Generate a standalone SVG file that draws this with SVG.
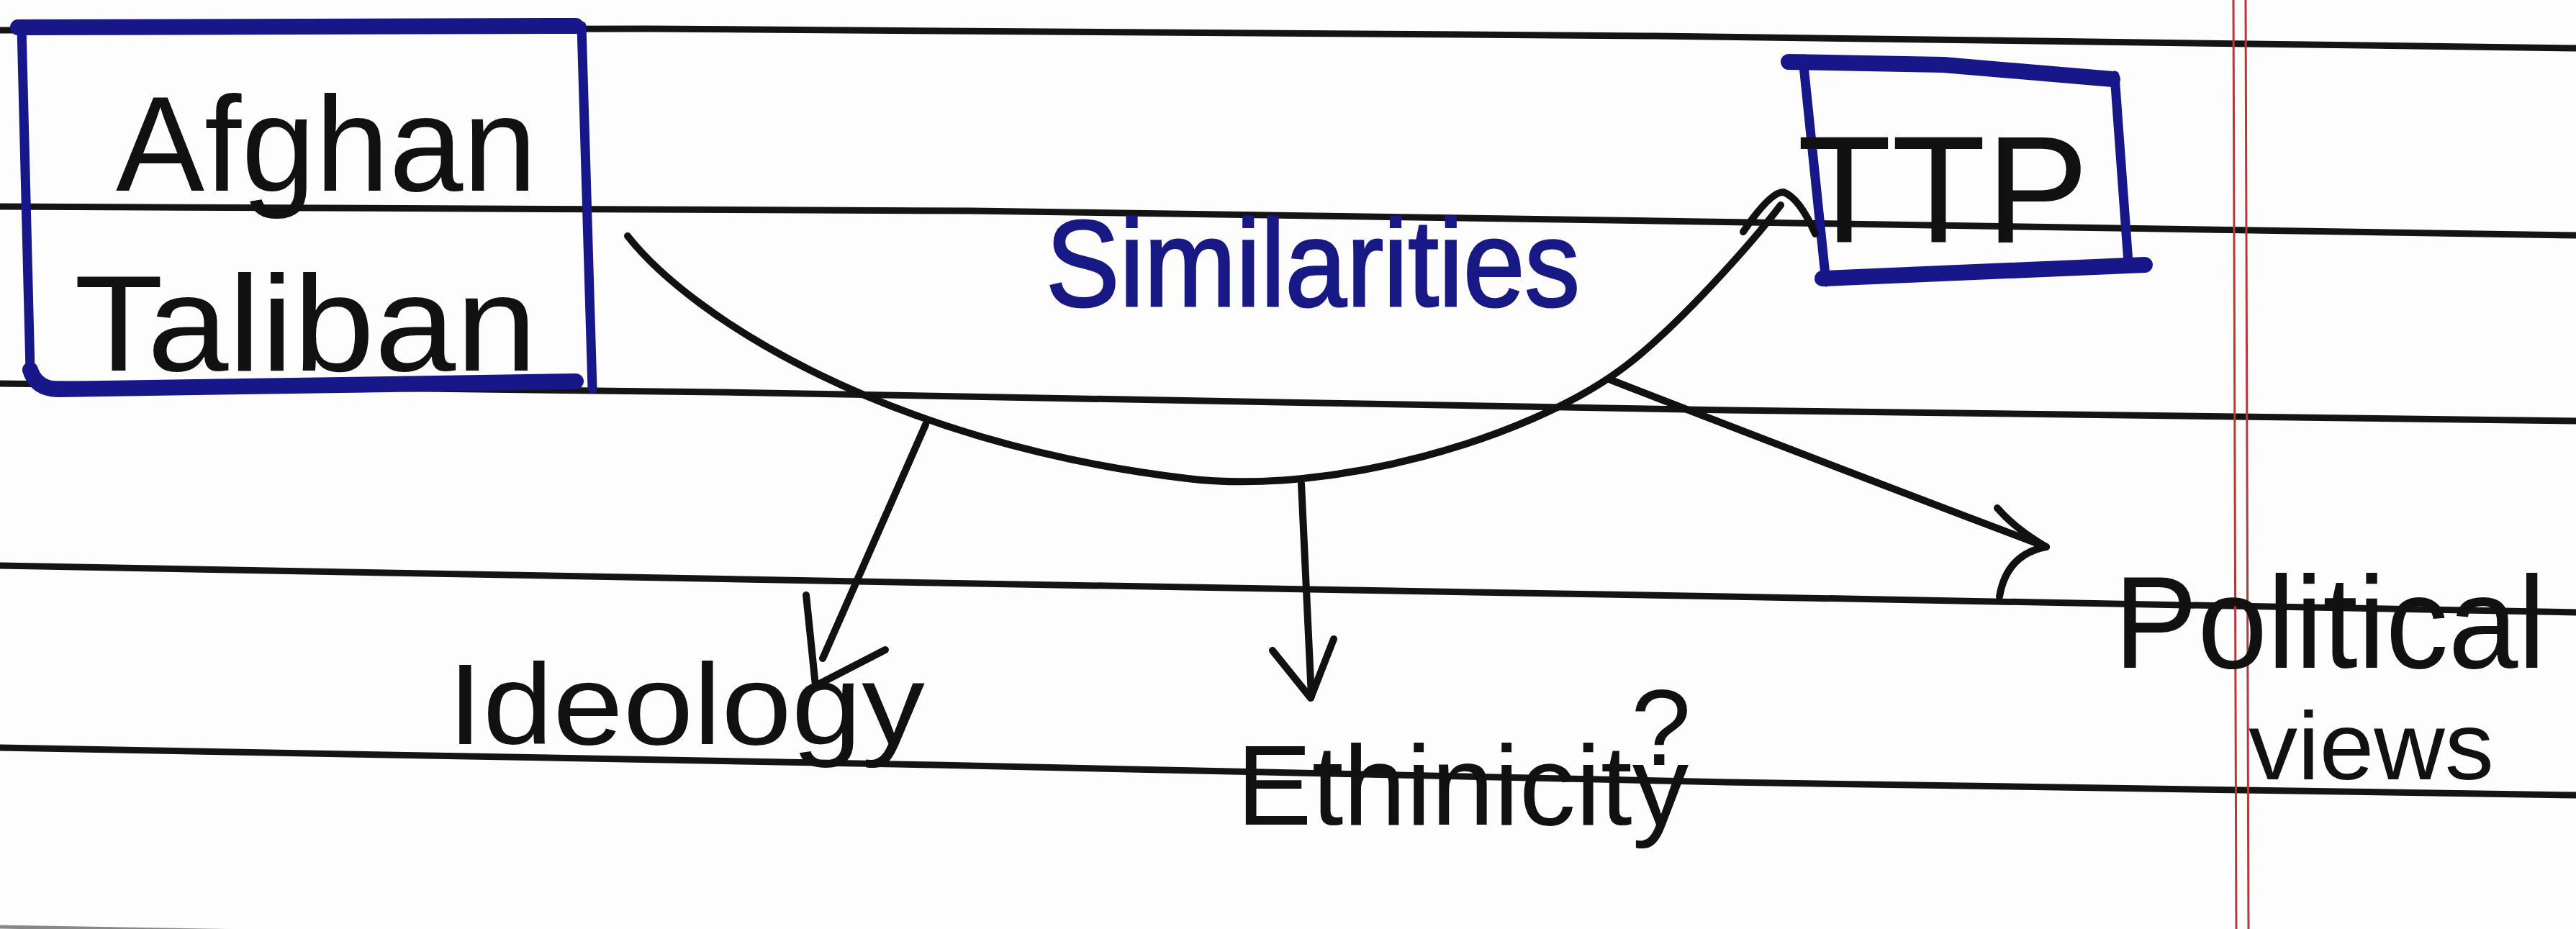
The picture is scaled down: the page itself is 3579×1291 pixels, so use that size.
<svg xmlns="http://www.w3.org/2000/svg" width="3579" height="1291" viewBox="0 0 3579 1291">
<defs>
<style>
.rule{fill:none;stroke:#141414;stroke-width:9;stroke-linecap:round;stroke-linejoin:round}
.margin{fill:none;stroke:#b23a3a;stroke-width:3}
.box-thin{fill:none;stroke:#17178a;stroke-width:13;stroke-linecap:round;stroke-linejoin:round}
.box-thick{fill:none;stroke:#17178a;stroke-width:22;stroke-linecap:round;stroke-linejoin:round}
.ink{fill:none;stroke:#111;stroke-width:10;stroke-linecap:round;stroke-linejoin:round}
.hand{font-family:"Liberation Sans","DejaVu Sans",sans-serif;fill:#111}
.blue{font-family:"Liberation Sans","DejaVu Sans",sans-serif;fill:#191985;stroke:#191985;stroke-width:3}
</style>
</defs>
<rect x="0" y="0" width="3579" height="1291" fill="#fdfdfd"/>
<g id="paper">
<polyline class="rule" points="0,42 900,40 2300,50 3579,67"/>
<polyline class="rule" points="0,287 1350,293 2300,307 3579,327"/>
<polyline class="rule" points="0,533 1000,545 2400,570 3579,585"/>
<polyline class="rule" points="0,786 1300,810 2400,829 3579,851"/>
<polyline class="rule" points="0,1039 1300,1063 2400,1087 3579,1105"/>
<polyline class="rule" points="0,1288 3579,1350" style="stroke:#888;stroke-width:5"/>
<line class="margin" x1="3103" y1="0" x2="3107" y2="1291"/>
<line class="margin" x1="3120" y1="0" x2="3124" y2="1291"/>
</g>
<g id="node-afghan-taliban">
<path class="box-thick" d="M25,38 L800,36"/>
<path class="box-thin" d="M808,36 L823,540"/>
<path class="box-thick" d="M42,514 Q50,540 80,541 L800,530"/>
<path class="box-thin" d="M30,38 L42,514"/>
<text class="hand" x="161" y="265" font-size="188" textLength="585" lengthAdjust="spacingAndGlyphs">Afghan</text>
<text class="hand" x="103" y="515" font-size="190" textLength="643" lengthAdjust="spacingAndGlyphs">Taliban</text>
</g>
<g id="node-ttp">
<path class="box-thick" d="M2485,86 L2700,90 L2935,110"/>
<path class="box-thin" d="M2938,105 L2957,365"/>
<path class="box-thick" d="M2532,387 L2980,368"/>
<path class="box-thin" d="M2505,82 L2537,392"/>
<text class="hand" x="2497" y="337" font-size="212" textLength="405" lengthAdjust="spacingAndGlyphs">TTP</text>
</g>
<g id="label-similarities">
<text class="blue" x="1453" y="425" font-size="170" textLength="742" lengthAdjust="spacingAndGlyphs">Similarities</text>
</g>
<g id="node-ideology">
<text class="hand" x="622" y="1034" font-size="160" textLength="663" lengthAdjust="spacingAndGlyphs">Ideology</text>
</g>
<g id="node-ethnicity">
<text class="hand" x="1718" y="1146" font-size="157">Ethinicity<tspan x="2266" y="1063" font-size="150">?</tspan></text>
</g>
<g id="node-political-views">
<text class="hand" x="2937" y="928" font-size="182" textLength="600" lengthAdjust="spacingAndGlyphs">Political</text>
<text class="hand" x="3124" y="1083" font-size="133" textLength="341" lengthAdjust="spacingAndGlyphs">views</text>
</g>
<g id="connectors">
<path class="ink" d="M872,328 C960,440 1230,615 1650,665 C1850,689 2120,610 2250,515 C2330,457 2440,330 2474,285"/>
<path class="ink" d="M2422,322 Q2460,266 2478,267 Q2500,275 2522,325"/>
<path class="ink" d="M1286,590 L1143,915"/>
<path class="ink" d="M1120,827 L1133,953 L1230,903"/>
<path class="ink" d="M1808,672 L1822,968"/>
<path class="ink" d="M1768,904 L1821,970 L1853,888"/>
<path class="ink" d="M2238,528 Q2500,630 2843,760"/>
<path class="ink" d="M2775,706 Q2800,735 2843,760 Q2788,770 2778,829"/>
</g>
</svg>
